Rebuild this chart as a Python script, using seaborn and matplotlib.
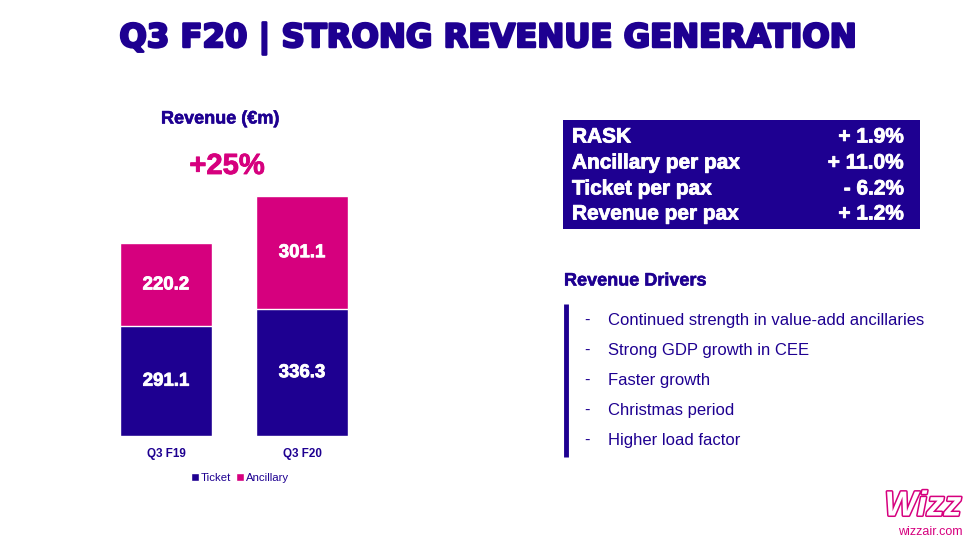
import numpy as np
import pandas as pd
import matplotlib
matplotlib.use('Agg')
import matplotlib.pyplot as plt
import matplotlib.patheffects as pe
from matplotlib.patches import Rectangle
import seaborn as sns

sns.set_theme(style='white')
plt.rcParams['font.family'] = ['Liberation Sans', 'DejaVu Sans']

# data
quarters = ['Q3 F19', 'Q3 F20']
ticket = [291.1, 336.3]
ancillary = [220.2, 301.1]
growth_label = '+25%'

kpi_names = ['RASK', 'Ancillary per pax', 'Ticket per pax', 'Revenue per pax']
kpi_values = ['+ 1.9%', '+ 11.0%', '- 6.2%', '+ 1.2%']

drivers = ['Continued strength in value-add ancillaries',
           'Strong GDP growth in CEE',
           'Faster growth',
           'Christmas period',
           'Higher load factor']

BLUE = '#1E0091'
PINK = '#D6007E'

W, H = 977, 541
fig = plt.figure(figsize=(W / 100, H / 100), dpi=100)
fig.patch.set_facecolor('white')

def fx(px):
    return px / W

def fy(py):
    return 1 - py / H

def thick(w, c):
    return [pe.withStroke(linewidth=w, foreground=c)]

# title
fig.text(fx(489), fy(39), 'Q3 F20 | STRONG REVENUE GENERATION', ha='center', va='center',
         fontsize=23.2, fontweight='bold', color=BLUE, family='DejaVu Sans',
         path_effects=thick(1.8, BLUE))

# stacked bars
df = pd.DataFrame({'quarter': quarters, 'ticket': ticket, 'ancillary': ancillary})
df['total'] = df['ticket'] + df['ancillary']

ax = fig.add_axes([fx(100), fy(436), fx(268), (436 - 196) / H])
sns.barplot(data=df, x='quarter', y='total', color=PINK, saturation=1, width=0.676,
            label='Ancillary', ax=ax)
sns.barplot(data=df, x='quarter', y='ticket', color=BLUE, saturation=1, width=0.676,
            label='Ticket', ax=ax)
ax.set_xlim(-0.485, 1.485)
ax.set_ylim(0, df['total'].max())
ax.set_xlabel('')
ax.set_ylabel('')
ax.set_yticks([])
ax.tick_params(axis='x', length=0, pad=9)
for lbl in ax.get_xticklabels():
    lbl.set_fontsize(8.4)
    lbl.set_fontweight('bold')
    lbl.set_color(BLUE)
sns.despine(ax=ax, left=True, bottom=True)
ax.patch.set_alpha(0)

for i, row in df.iterrows():
    ax.text(i, row['ticket'] / 2, f"{row['ticket']:.1f}", ha='center', va='center',
            color='white', fontsize=13.4, fontweight='bold', path_effects=thick(0.6, 'white'))
    ax.text(i, row['ticket'] + row['ancillary'] / 2, f"{row['ancillary']:.1f}", ha='center',
            va='center', color='white', fontsize=13.4, fontweight='bold',
            path_effects=thick(0.6, 'white'))

handles, labels = ax.get_legend_handles_labels()
order = [labels.index('Ticket'), labels.index('Ancillary')]
leg = ax.legend([handles[k] for k in order], [labels[k] for k in order],
                loc='center', bbox_to_anchor=(fx(240), fy(478)), bbox_transform=fig.transFigure,
                ncol=2, frameon=False, fontsize=8.2, handlelength=0.75, handleheight=0.6,
                handletextpad=0.15, columnspacing=0.4)
for t in leg.get_texts():
    t.set_color(BLUE)

fig.text(fx(220), fy(119), 'Revenue (€m)', ha='center', va='center', fontsize=13,
         fontweight='bold', color=BLUE, path_effects=thick(0.4, BLUE))
fig.text(fx(227), fy(166), growth_label, ha='center', va='center', fontsize=21,
         fontweight='bold', color=PINK, path_effects=thick(0.6, PINK))

# KPI box
fig.patches.append(Rectangle((fx(563), fy(229)), fx(920 - 563), (229 - 120) / H,
                             transform=fig.transFigure, facecolor=BLUE, edgecolor='none'))
row_y = [137, 163, 189, 214]
for name, val, yy in zip(kpi_names, kpi_values, row_y):
    fig.text(fx(572), fy(yy), name, ha='left', va='center', fontsize=15,
             fontweight='bold', color='white', path_effects=thick(0.6, 'white'))
    fig.text(fx(904), fy(yy), val, ha='right', va='center', fontsize=15,
             fontweight='bold', color='white', path_effects=thick(0.6, 'white'))

# revenue drivers
fig.text(fx(564), fy(281), 'Revenue Drivers', ha='left', va='center', fontsize=13,
         fontweight='bold', color=BLUE, path_effects=thick(0.4, BLUE))
fig.lines.append(plt.Line2D([fx(566), fx(566)], [fy(304), fy(457)], transform=fig.transFigure,
                            color=BLUE, lw=3.5, solid_capstyle='butt'))
drv_y = [320, 350, 380, 410, 440]
for txt, yy in zip(drivers, drv_y):
    fig.text(fx(587), fy(yy + 4.5), '-', ha='center', va='baseline', fontsize=12, color=BLUE)
    fig.text(fx(608), fy(yy + 4.5), txt, ha='left', va='baseline', fontsize=12, color=BLUE)

# logo
fig.text(fx(923), fy(506), 'Wizz', ha='center', va='center', fontsize=25, fontweight='bold',
         style='italic', color='white', path_effects=thick(2.2, PINK))
fig.text(fx(930), fy(532), 'wizzair.com', ha='center', va='center', fontsize=9,
         color=PINK)

fig.savefig('out.png', dpi=100)
